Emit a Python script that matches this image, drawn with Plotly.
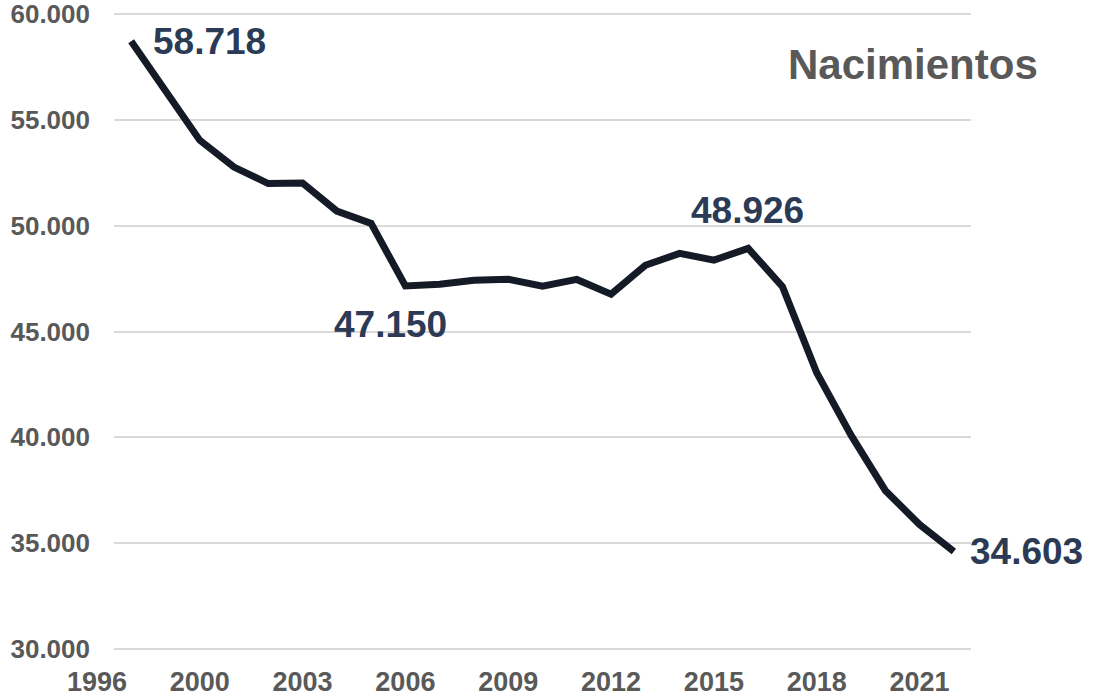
import plotly.graph_objects as go

years = list(range(1998, 2023))
births = [58718, 56350, 54040, 52770, 51990, 52010, 50690, 50110, 47150, 47230,
          47420, 47470, 47140, 47460, 46760, 48130, 48690, 48370, 48926, 47120,
          43050, 40100, 37490, 35880, 34603]

tick_vals = [2000, 2003, 2006, 2009, 2012, 2015, 2018, 2021]
tick_text = ["2000", "2003", "2006", "2009", "2012", "2015", "2018", "2021"]
first_tick_label = "1996"
first_tick_pos = 1997

y_ticks = [30000, 35000, 40000, 45000, 50000, 55000, 60000]
title_text = "Nacimientos"

# labelled points: (year, xanchor, yanchor, xshift, yshift)
label_specs = [
    (1998, "left", "middle", 20, 0),
    (2006, "center", "middle", -15, -38),
    (2016, "center", "middle", -1, 38),
    (2022, "left", "middle", 14, 0),
]

FONT = "Liberation Sans, Arial, sans-serif"
x_range = [1997.5, 2022.5]
y_range = [29906, 60189]

fig = go.Figure()
fig.add_trace(go.Scatter(
    x=years, y=births, mode="lines",
    line=dict(color="#141a26", width=7),
    hoverinfo="skip", showlegend=False,
))

annotations = []
for yr, xa, ya, xs, ys in label_specs:
    v = births[years.index(yr)]
    annotations.append(dict(
        x=yr, y=v, xref="x", yref="y",
        text=f"{v:,}".replace(",", "."),
        showarrow=False, xanchor=xa, yanchor=ya, xshift=xs, yshift=ys,
        font=dict(family=FONT, size=37, color="#2b3a55", weight="bold"),
    ))

annotations.append(dict(
    x=0.932, y=0.915, xref="paper", yref="paper", text=title_text,
    showarrow=False, xanchor="center", yanchor="middle",
    font=dict(family=FONT, size=42, color="#595959", weight="bold"),
))

annotations.append(dict(
    x=(first_tick_pos - x_range[0]) / (x_range[1] - x_range[0]), y=0,
    xref="paper", yref="paper", text=first_tick_label,
    showarrow=False, xanchor="center", yanchor="middle", yshift=-31,
    font=dict(family=FONT, size=27, color="#595959", weight="bold"),
))

fig.update_layout(
    width=1094, height=699,
    margin=dict(l=114, r=123, t=10, b=48, pad=0),
    paper_bgcolor="white", plot_bgcolor="white",
    separators=",.",
    annotations=annotations,
    xaxis=dict(
        range=x_range, tickvals=tick_vals, ticktext=tick_text,
        showgrid=False, zeroline=False, showline=False, ticks="",
        automargin=False, ticklabeloverflow="allow",
        tickfont=dict(family=FONT, size=27, color="#595959", weight="bold"),
        ticklabelstandoff=12,
    ),
    yaxis=dict(
        range=y_range, tickvals=y_ticks, tickformat=",d",
        showgrid=True, gridcolor="#d9d9d9", gridwidth=1.5,
        zeroline=False, showline=False, ticks="",
        automargin=False, ticklabeloverflow="allow",
        tickfont=dict(family=FONT, size=26, color="#595959", weight="bold"),
        ticklabelstandoff=23,
    ),
)

fig.write_html("out.html", config={"displayModeBar": False},
               post_script="document.body.style.margin='0px';")
